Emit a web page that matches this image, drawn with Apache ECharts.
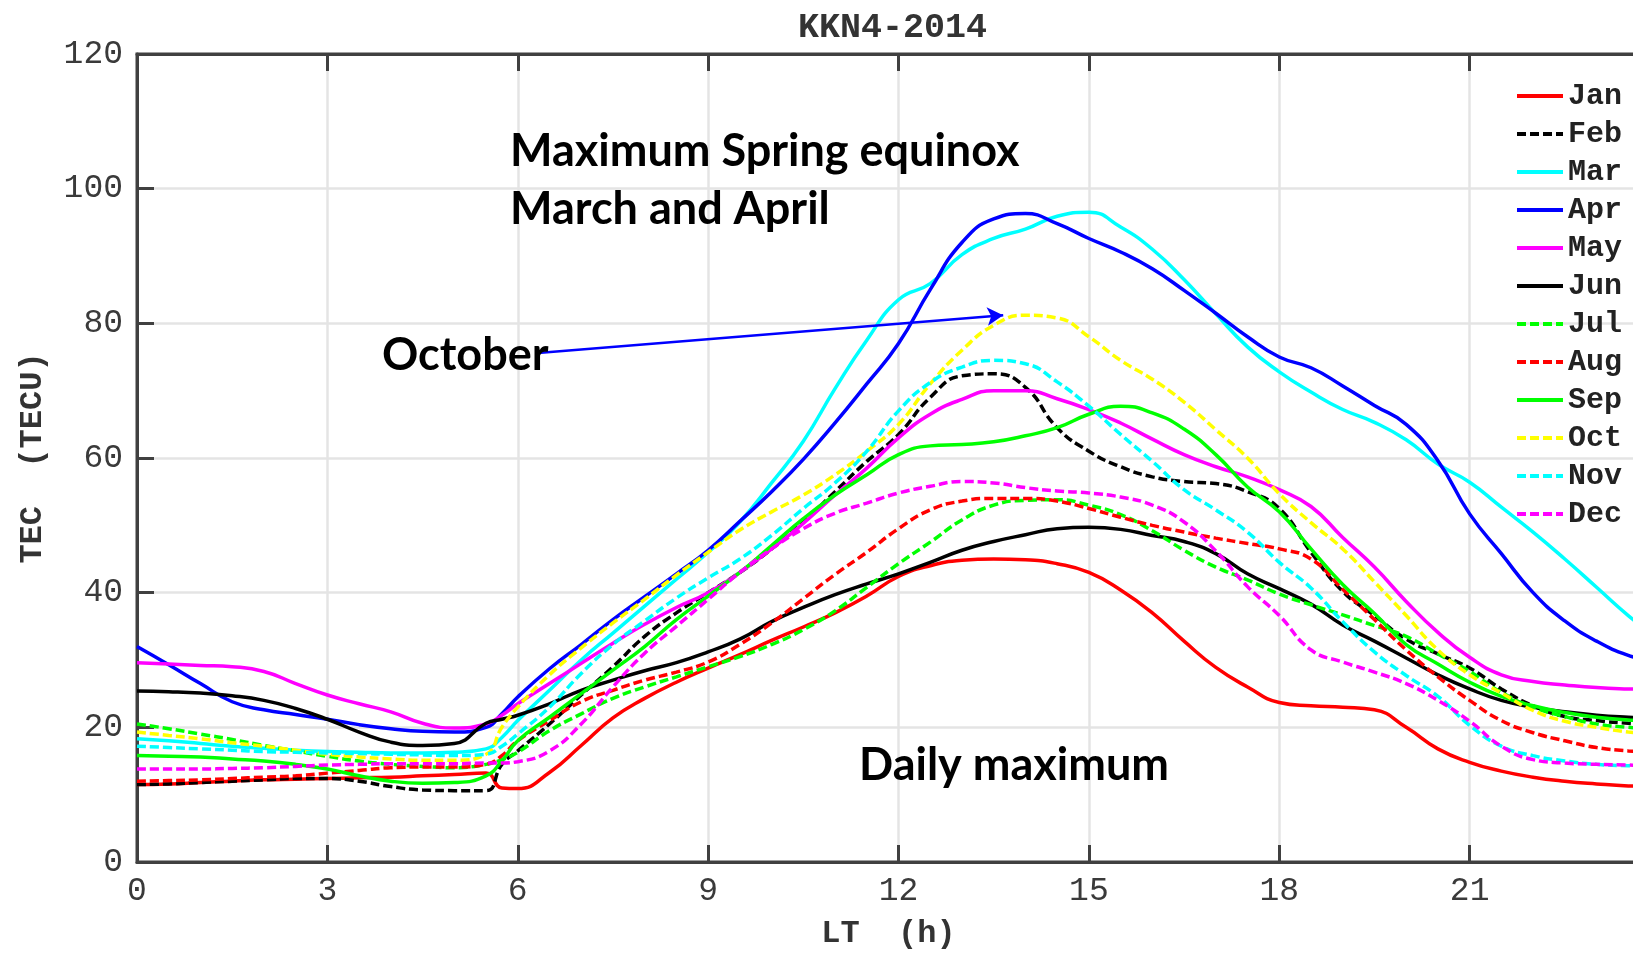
<!DOCTYPE html>
<html>
<head>
<meta charset="utf-8">
<script src="https://cdn.jsdelivr.net/npm/echarts@6/dist/echarts.min.js"></script>
<style>
html,body{margin:0;padding:0;background:#fff;}
#chart{width:1633px;height:954px;}
</style>
</head>
<body>
<div id="chart"></div>
<script>
// Local time (h)
const hours = [0,0.5,1,1.5,2,2.5,3,3.5,4,4.5,5,5.5,5.75,6,6.5,7,7.5,8,8.5,9,9.5,10,10.5,11,11.5,12,12.5,13,13.5,14,14.5,15,15.5,16,16.5,17,17.5,18,18.5,19,19.5,20,20.5,21,21.5,22,22.5,23,23.5,24];

const months = ['Jan','Feb','Mar','Apr','May','Jun','Jul','Aug','Sep','Oct','Nov','Dec'];

const jan = [11.5,11.6,11.8,12.0,12.2,12.3,12.4,12.5,12.6,12.8,13.0,13.2, 11.0, 10.9,13.3,17.3,21.4,24.3,26.7,28.8,30.8,32.9,34.9,37.0,39.5,42.4,44.0,44.8,45.0,44.9,44.3,43.0,40.4,37.0,32.8,28.9,26.0,23.7,23.2,23.0,22.6,20.0,16.8,14.8,13.5,12.6,12.0,11.6,11.3,11.2];
const feb = [11.5,11.6,11.8,12.0,12.2,12.4,12.4,12.0,11.2,10.7,10.6,10.6, 14.5, 16.5,20.5,24.8,29,33.5,37,40,43,46.5,50.5,55,59.5,63.5,69,72.2,72.5,70.5,64.5,61,58.7,57.2,56.5,56.2,55,52.5,46,40.2,36.6,33.1,30.9,28.8,25.7,23.2,21.6,21,20.6,20.4];
const mar = [18.3,18.0,17.6,17.2,16.9,16.6,16.4,16.3,16.2,16.2,16.3,16.8, 18.5, 21,25.5,30,34,38,42,46,50.5,56.3,62.5,70.3,77.5,83.5,85.9,90.2,92.6,94,95.9,96.5,94.3,91,86.5,81.4,76.5,72.8,69.8,67.2,65.3,62.7,59.1,56.4,52.7,49,45,40.8,36.6,33];
const apr = [32,29.3,26.5,23.8,22.6,21.9,21.2,20.4,19.8,19.4,19.3,20.0, 22, 24.5,28.7,32.3,36,39.4,42.8,46.3,50.6,55,59.8,65.2,71,77,85,92,95.5,96.3,94.8,92.6,90.6,88.1,84.9,81.5,78,75,73.4,70.7,67.8,65,59.6,51.7,45.8,40,35.8,32.8,30.7,29.5];
const may = [29.6,29.4,29.2,29.0,28.3,26.5,24.8,23.5,22.3,20.6,19.9,20.5, 21.8, 23.5,26.5,29.5,32.5,35.3,37.8,40,43,46.5,50.3,54.5,58.5,63,66.5,68.7,70,70,68.8,67.2,65.2,62.8,60.5,58.7,57.2,55.3,52.8,48.2,43.8,38.7,34.1,30.4,27.8,26.8,26.3,25.9,25.7,25.6];
const jun = [25.4,25.3,25.1,24.7,24.0,22.8,21.2,19.3,17.8,17.3,17.6,20.6, 21.2, 21.8,23.5,25.5,27,28.4,29.6,31.2,33.1,35.7,37.8,39.7,41.3,42.8,44.5,46.3,47.6,48.6,49.5,49.7,49.4,48.5,47.6,45.8,42.8,40.6,38.3,35.2,32.8,30.3,27.8,25.7,24,23,22.3,21.8,21.5,21.3];
const jul = [20.5,19.8,19.0,18.2,17.3,16.5,15.7,15.0,14.5,14.2,14.0,14.5, 15.2, 16.3,19.5,22,24.3,26,27.5,29,30.5,32.3,34.5,37.3,40.8,44.3,47.5,50.8,53,53.7,53.8,53,51.6,49.2,46.3,43.8,41.9,39.8,38.2,36.7,35.1,33.5,30.9,28.3,25.2,23,21.6,20.5,20,19.7];
const aug = [12.0,12.1,12.2,12.4,12.6,12.8,13.2,13.6,14.0,14.1,14.1,14.5, 15.8, 18,21,23.8,25.5,27,28.2,29.7,32.3,35.5,39.1,42.7,46,49.5,52.3,53.6,54,54,53.6,52.5,51.2,50,49,48.1,47.3,46.5,45,40.5,36,31.5,27.5,24,21,19.2,18,17,16.5,16.2];
const sep = [15.8,15.7,15.6,15.3,15.0,14.5,13.8,12.8,12.0,11.7,11.8,12.8, 15, 18,21.5,25,28.5,32,36,39.5,43,47,51,54.5,57.5,60.5,61.8,62,62.4,63.3,64.5,66.5,67.7,66.7,64.3,60.5,55.7,52,46.5,41.2,36.9,32.3,29.4,26.7,24.6,23.2,22.2,21.5,21.1,20.9];
const oct = [19.3,18.8,18.3,17.7,17.2,16.6,16.0,15.6,15.3,15.1,15.1,16.0, 20, 23,27.8,31.8,35.5,39,42.6,46,49.3,52,54.5,57.5,61,65,71,76,79.7,81.2,80.8,78,74.5,71.7,68.3,64.2,60,54.7,50.4,46.5,41.6,36.6,31.5,27.8,25.1,22.5,20.9,20,19.3,18.9];
const nov = [17.2,17.0,16.8,16.6,16.4,16.3,16.2,16.1,16.0,15.9,15.8,16.0, 17.2, 19,23,28,32.3,35.8,39.2,42.2,45,48.5,52.5,56.3,61,67,71.2,73.5,74.5,74,71.3,67.7,63.5,59.5,55.3,52.3,49,44.5,40.7,35.7,31.2,27.7,24.6,20.3,17.2,15.8,15,14.5,14.3,14.2];
const dec = [13.8,13.8,13.8,13.9,14.0,14.2,14.4,14.5,14.6,14.6,14.6,14.7, 14.7, 14.9,16.5,20.5,26,31,35,39,43,46.5,49.5,51.8,53.3,54.8,55.8,56.5,56.3,55.6,55.1,54.8,54.2,53,50.5,46.2,40.9,36.6,31.5,29.7,28.2,26.5,24,20.9,17.2,15.2,14.7,14.5,14.4,14.3];

const xTicks = [0,3,6,9,12,15,18,21,24];
const yTicks = [0,20,40,60,80,100,120];

// Arrow annotation endpoints (data coords): from "October" label to the October peak
const arrowFrom = [6.32, 75.6];
const arrowTo = [13.65, 81.2];

const seriesValues = [jan,feb,mar,apr,may,jun,jul,aug,sep,oct,nov,dec];
const seriesColors = ['#ff0000','#000000','#00ffff','#0000ff','#ff00ff','#000000','#00ff00','#ff0000','#00ff00','#ffff00','#00ffff','#ff00ff'];
const seriesDashed = [false,true,false,false,false,false,true,true,false,true,true,true];

const chart = echarts.init(document.getElementById('chart'), null, {renderer:'canvas'});
const mono = 'Liberation Mono';

const series = months.map((m,i)=>{
  const s = {
    name: m,
    type: 'line',
    data: hours.map((h,k)=>[h, seriesValues[i][k]]),
    symbol: 'none',
    showSymbol: false,
    smooth: 0.5,
    lineStyle: {color: seriesColors[i], width: 3.5, type: seriesDashed[i] ? [9,4] : 'solid'},
    itemStyle: {color: seriesColors[i]},
    emphasis: {disabled: true},
    silent: true
  };
  if (i === 0) {
    s.markLine = {
      silent: true,
      symbol: ['none','arrow'],
      symbolSize: [14, 16],
      label: {show: false},
      lineStyle: {color: '#0000ff', width: 2.5, type: 'solid'},
      emphasis: {disabled: true},
      data: [[{coord: arrowFrom}, {coord: arrowTo}]]
    };
  }
  return s;
});

const option = {
  animation: false,
  backgroundColor: '#ffffff',
  title: {
    text: 'KKN4-2014',
    left: 793, top: 6,
    textStyle: {fontFamily: mono, fontSize: 35, fontWeight: 'bold', color: '#333'}
  },
  grid: {
    left: 137, top: 54, width: 1523, height: 808,
    outerBoundsMode: 'none', containLabel: false,
    show: true, borderColor: '#404040', borderWidth: 3, backgroundColor: '#ffffff'
  },
  legend: {
    data: months,
    orient: 'vertical',
    left: 1510, top: 76,
    itemWidth: 46, itemHeight: 14, itemGap: 8,
    itemStyle: {opacity: 0},
    lineStyle: {width: 4},
    backgroundColor: 'transparent',
    textStyle: {fontFamily: mono, fontSize: 30, lineHeight: 30, fontWeight: 'bold', color: '#222'},
    selectedMode: false
  },
  xAxis: [{
    type: 'value', min: 0, max: 24, interval: 3,
    position: 'bottom',
    name: 'LT  (h)', nameLocation: 'middle', nameGap: 56,
    nameTextStyle: {fontFamily: mono, fontSize: 32, fontWeight: 'bold', color: '#333', padding: [0, 20, 0, 0]},
    axisLine: {show: true, onZero: false, lineStyle: {color: '#404040', width: 3}},
    axisTick: {show: true, inside: true, length: 17, lineStyle: {color: '#404040', width: 3}},
    axisLabel: {fontFamily: mono, fontSize: 33, color: '#3a3a3a', margin: 13,
      formatter: v => xTicks.includes(v) ? String(v) : ''},
    splitLine: {show: true, lineStyle: {color: '#e4e4e4', width: 2.5}}
  },{
    type: 'value', min: 0, max: 24, interval: 3,
    position: 'top',
    axisLine: {show: true, onZero: false, lineStyle: {color: '#404040', width: 3}},
    axisTick: {show: true, inside: true, length: 17, lineStyle: {color: '#404040', width: 3}},
    axisLabel: {show: false},
    splitLine: {show: false}
  }],
  yAxis: {
    type: 'value', min: 0, max: 120, interval: 20,
    name: 'TEC  (TECU)', nameLocation: 'middle', nameGap: 88, nameRotate: 90,
    nameTextStyle: {fontFamily: mono, fontSize: 32, fontWeight: 'bold', color: '#333'},
    axisLine: {show: true, onZero: false, lineStyle: {color: '#404040', width: 3}},
    axisTick: {show: true, inside: true, length: 17, lineStyle: {color: '#404040', width: 3}},
    axisLabel: {fontFamily: mono, fontSize: 33, color: '#3a3a3a', margin: 14,
      formatter: v => yTicks.includes(v) ? String(v) : ''},
    splitLine: {show: true, lineStyle: {color: '#e4e4e4', width: 2.5}}
  },
  graphic: [
    {type:'text', x:510, y:151, z: 100, style:{text:'Maximum Spring equinox', font:'bold 45px Lato', fill:'#000', verticalAlign:'middle'}},
    {type:'text', x:510, y:209, z: 100, style:{text:'March and April', font:'bold 45px Lato', fill:'#000', verticalAlign:'middle'}},
    {type:'text', x:382, y:355, z: 100, style:{text:'October', font:'bold 45px Lato', fill:'#000', verticalAlign:'middle'}},
    {type:'text', x:859, y:765, z: 100, style:{text:'Daily maximum', font:'bold 45px Lato', fill:'#000', verticalAlign:'middle'}}
  ],
  series: series
};
chart.setOption(option);
</script>
</body>
</html>
